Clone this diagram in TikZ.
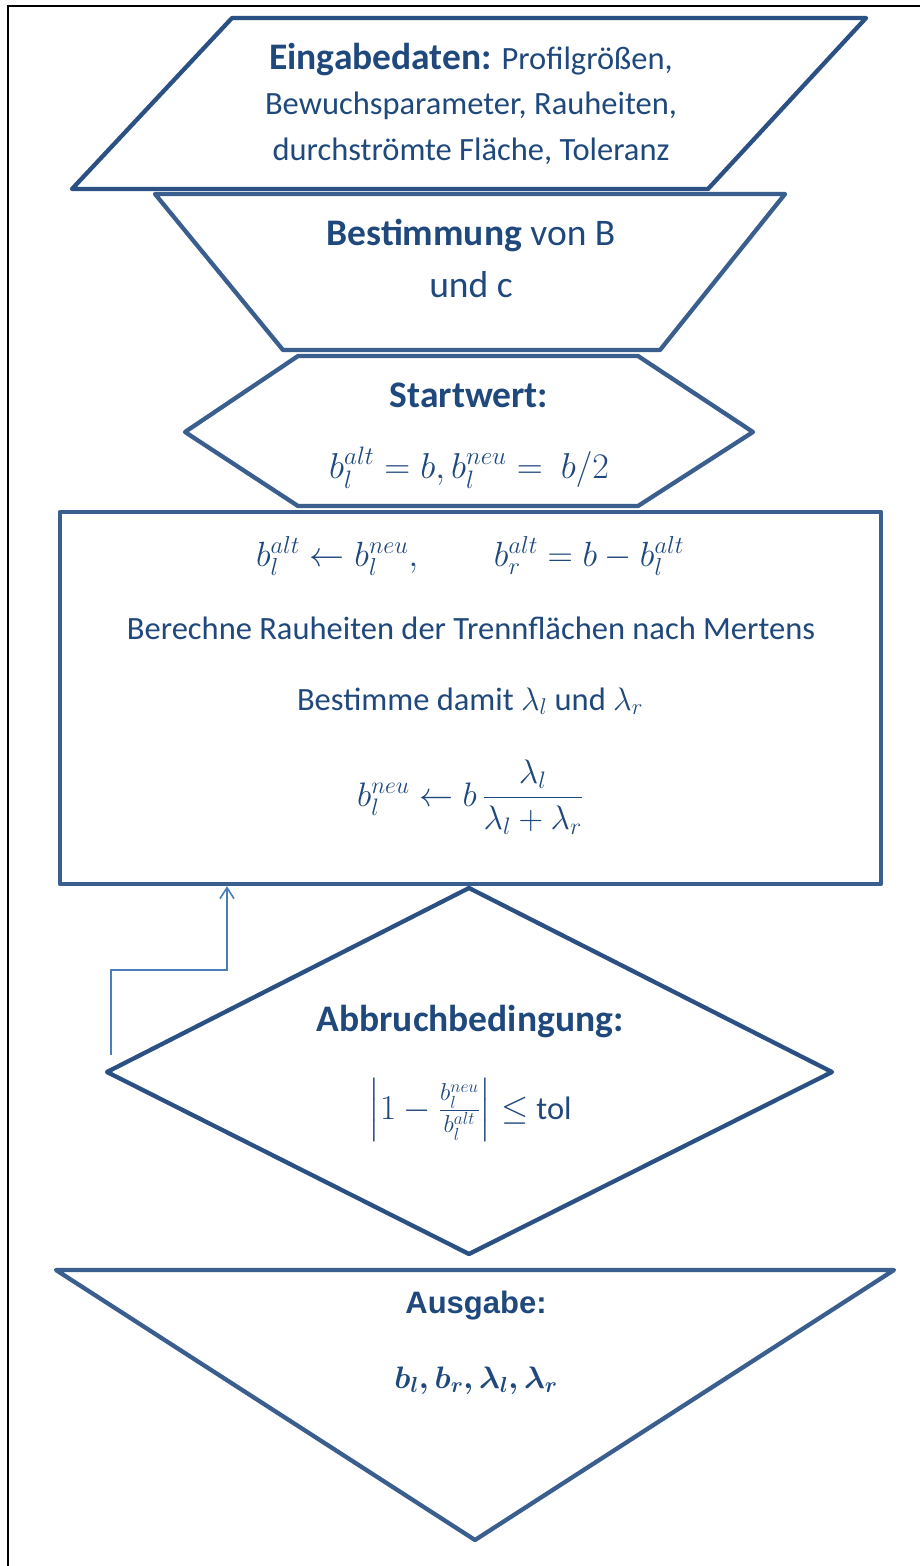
\RequirePackage{fix-cm}
\documentclass[tikz,border=0pt]{standalone}
\usepackage{amsmath,amssymb}
\usepackage{fontspec}
\setmainfont{Carlito}
\newfontfamily\arialfont{Liberation Sans}
\usetikzlibrary{arrows.meta}
\definecolor{shapeblue}{HTML}{3A5F8E}
\definecolor{darkshape}{HTML}{2A5084}
\definecolor{textblue}{HTML}{1F487C}
\definecolor{arrowblue}{HTML}{4A7EBB}
\begin{document}
\begin{tikzpicture}[x=1pt,y=-1pt,
  shapeline/.style={draw=shapeblue, line width=4.3pt, line join=round},
  txt/.style={text=textblue, inner sep=0pt, anchor=base, font=\fontsize{32.5}{36}\selectfont},
  bigtxt/.style={txt, font=\fontsize{37.5}{42}\selectfont},
  mathtxt/.style={txt, font=\fontsize{35}{40}\selectfont},
  feedback/.style={draw=arrowblue, line width=1.6pt, -{Straight Barb[length=11pt,width=14pt,line width=1.6pt]}}]
\useasboundingbox (0,0) rectangle (920,1566);
\draw[black, line width=2pt] (8,1566) -- (8,6) -- (920,6);

% input parallelogram
\coordinate (inA) at (232,18); \coordinate (inB) at (866,18);
\coordinate (inC) at (708,189); \coordinate (inD) at (72,189);
\draw[shapeline, draw=darkshape] (inA) -- (inB) -- (inC) -- (inD) -- cycle;
\node[txt] (in1) at (471,69) {{\fontsize{37.5}{42}\selectfont\bfseries Eingabedaten:} Profilgrößen,};
\node[txt] (in2) at (471,114) {Bewuchsparameter, Rauheiten,};
\node[txt] (in3) at (471,160) {durchströmte Fläche, Toleranz};

% manual operation trapezoid
\coordinate (trA) at (155,194); \coordinate (trB) at (785,194);
\coordinate (trC) at (660,350); \coordinate (trD) at (283,350);
\draw[shapeline] (trA) -- (trB) -- (trC) -- (trD) -- cycle;
\node[bigtxt] (tr1) at (471,245) {\textbf{Bestimmung} von B};
\node[bigtxt] (tr2) at (471,297) {und c};

% preparation hexagon
\coordinate (hxA) at (298,356); \coordinate (hxB) at (638,356);
\coordinate (hxC) at (753,432); \coordinate (hxD) at (638,506);
\coordinate (hxE) at (298,506); \coordinate (hxF) at (185,432);
\draw[shapeline] (hxA) -- (hxB) -- (hxC) -- (hxD) -- (hxE) -- (hxF) -- cycle;
\node[bigtxt] (hx1) at (469,407) {\textbf{Startwert:}};
\node[mathtxt, font=\fontsize{36}{40}\selectfont] (hx2) at (469,478) {$b_l^{alt}=b, b_l^{neu}=\ b/2$};

% process rectangle
\node[shapeline, rectangle, minimum width=821pt, minimum height=372pt, inner sep=0pt] (calc) at (470.5,698) {};
\node[mathtxt] (pr1) at (470,566) {$b_l^{alt}\leftarrow b_l^{neu},\qquad b_r^{alt}=b-b_l^{alt}$};
\node[txt] (pr2) at (471,639) {Berechne Rauheiten der Trennflächen nach Mertens};
\node[txt] (pr3) at (470,710) {Bestimme damit $\lambda_l$ und $\lambda_r$};
\node[mathtxt, font=\fontsize{34}{38}\selectfont] (pr4) at (470,806) {$b_l^{neu}\leftarrow b\,\dfrac{\lambda_l}{\lambda_l+\lambda_r}$};

% decision diamond
\coordinate (dmT) at (469,888); \coordinate (dmR) at (832,1072);
\coordinate (dmB) at (469,1254); \coordinate (dmL) at (107,1072);
\draw[shapeline, draw=darkshape] (dmT) -- (dmR) -- (dmB) -- (dmL) -- cycle;
\node[bigtxt] (dm1) at (470,1031) {\textbf{Abbruchbedingung:}};
\node[mathtxt] (dm2) at (470,1119) {$\left|1-\frac{b_l^{neu}}{b_l^{alt}}\right|\leq$ {\fontsize{32.5}{36}\selectfont tol}};

% feedback connector
\coordinate (fbS) at (111,1055);
\coordinate (fbM) at (227,970);
\draw[feedback] (fbS) |- (fbM) -- (calc.south -| fbM);

% output triangle
\coordinate (otA) at (56,1270); \coordinate (otB) at (894,1270);
\coordinate (otC) at (475,1540);
\draw[shapeline] (otA) -- (otB) -- (otC) -- cycle;
\node[txt, font=\arialfont\bfseries\fontsize{31}{34}\selectfont] (ot1) at (476,1313) {Ausgabe:};
\node[txt, font=\fontsize{31}{34}\selectfont] (ot2) at (476,1388) {$\boldsymbol{b_l, b_r, \lambda_l, \lambda_r}$};
\end{tikzpicture}
\end{document}
